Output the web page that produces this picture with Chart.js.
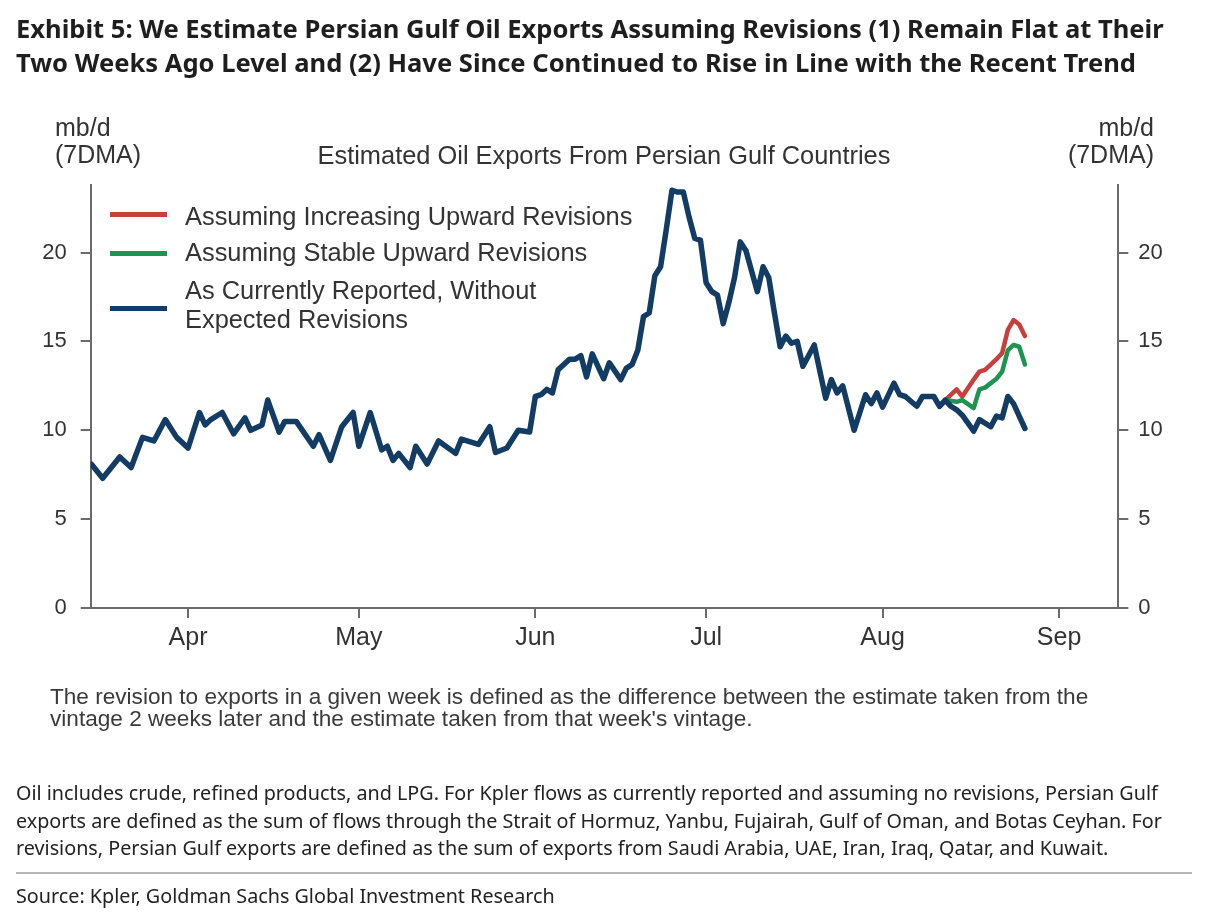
<!DOCTYPE html>
<html>
<head>
<meta charset="utf-8">
<script src="https://cdn.jsdelivr.net/npm/chart.js@4.4.1/dist/chart.umd.min.js"></script>
<style>
  html, body { margin: 0; padding: 0; background: #fff; }
  #page { position: relative; width: 1225px; height: 919px; overflow: hidden; background: #fff; }
  #chartWrap { position: absolute; left: 0; top: 0; width: 1225px; height: 919px; }
  .abs { position: absolute; white-space: nowrap; }
  .title { font-family: "Noto Sans", "Open Sans", sans-serif; font-weight: 700; font-size: 25.55px; line-height: 34px; color: #1e1e1e; left: 16px; top: 11px; }
  .arial { font-family: "Liberation Sans", Arial, sans-serif; color: #333; }
  .foot { font-family: "Noto Sans", "Open Sans", sans-serif; font-size: 19.75px; line-height: 27.5px; color: #222; left: 16px; }
  .swatch { position: absolute; left: 110px; width: 57px; height: 5px; }
</style>
</head>
<body>
<div id="page">
  <div id="chartWrap"><canvas id="c" width="1225" height="919"></canvas></div>

  <div class="abs title">Exhibit 5: We Estimate Persian Gulf Oil Exports Assuming Revisions (1) Remain Flat at Their<br>Two Weeks Ago Level and (2) Have Since Continued to Rise in Line with the Recent Trend</div>

  <div class="abs arial" style="left:55px; top:114px; font-size:25px; line-height:27px;">mb/d<br>(7DMA)</div>
  <div class="abs arial" style="right:71px; top:114px; font-size:25px; line-height:27px; text-align:right;">mb/d<br>(7DMA)</div>
  <div class="abs arial" style="left:0; width:1208px; text-align:center; top:140px; font-size:25.4px; line-height:30px;">Estimated Oil Exports From Persian Gulf Countries</div>

  <div class="swatch" style="top:212px; background:#c8403e;"></div>
  <div class="swatch" style="top:251px; background:#1f9452;"></div>
  <div class="swatch" style="top:306px; background:#123c63;"></div>
  <div class="abs arial" style="left:185px; top:201px; font-size:25.4px; line-height:30px;">Assuming Increasing Upward Revisions</div>
  <div class="abs arial" style="left:185px; top:237px; font-size:25.4px; line-height:30px;">Assuming Stable Upward Revisions</div>
  <div class="abs arial" style="left:185px; top:276px; font-size:25.4px; line-height:29px;">As Currently Reported, Without<br>Expected Revisions</div>

  <div class="abs arial" style="left:50px; top:686px; font-size:22.6px; line-height:22px; color:#3a3a3a;">The revision to exports in a given week is defined as the difference between the estimate taken from the<br>vintage 2 weeks later and the estimate taken from that week's vintage.</div>

  <div class="abs foot" style="top:779px;">Oil includes crude, refined products, and LPG. For Kpler flows as currently reported and assuming no revisions, Persian Gulf<br>exports are defined as the sum of flows through the Strait of Hormuz, Yanbu, Fujairah, Gulf of Oman, and Botas Ceyhan. For<br>revisions, Persian Gulf exports are defined as the sum of exports from Saudi Arabia, UAE, Iran, Iraq, Qatar, and Kuwait.</div>
  <div class="abs" style="left:16px; top:872px; width:1176px; height:2px; background:#b5b5b5;"></div>
  <div class="abs foot" style="top:882px;">Source: Kpler, Goldman Sachs Global Investment Research</div>
</div>

<script>
// ---- Data ----
const reportedDates = [
  '03-15','03-17','03-20','03-22','03-24','03-26','03-28','03-30',
  '04-01','04-03','04-04','04-05','04-07','04-09','04-11','04-12','04-14','04-15','04-17','04-18','04-20','04-23','04-24','04-26','04-28','04-30',
  '05-01','05-03','05-05','05-06','05-07','05-08','05-10','05-11','05-13','05-15','05-18','05-19','05-22','05-24','05-25','05-27','05-29','05-31',
  '06-01','06-02','06-03','06-04','06-05','06-07','06-08','06-09','06-10','06-11','06-13','06-14','06-16','06-17','06-18','06-19','06-20','06-21','06-22','06-23','06-24','06-25','06-26','06-27','06-28','06-29','06-30',
  '07-01','07-02','07-03','07-04','07-05','07-06','07-07','07-08','07-10','07-11','07-12','07-13','07-14','07-15','07-16','07-17','07-18','07-20','07-21','07-22','07-23','07-24','07-25','07-27','07-29','07-30','07-31',
  '08-01','08-03','08-04','08-05','08-07','08-08','08-10','08-11','08-12','08-13','08-14','08-15','08-17','08-18','08-20','08-21','08-22','08-23','08-24','08-25','08-26'
];
const reportedValues = [
  8.1, 7.3, 8.5, 7.9, 9.6, 9.4, 10.6, 9.6,
  9.0, 11.0, 10.3, 10.6, 11.0, 9.8, 10.7, 10.0, 10.3, 11.7, 9.9, 10.5, 10.5, 9.1, 9.75, 8.3, 10.2, 11.0,
  9.1, 11.0, 8.9, 9.1, 8.3, 8.7, 7.9, 9.1, 8.1, 9.4, 8.7, 9.5, 9.2, 10.2, 8.75, 9.0, 10.0, 9.9,
  11.9, 12.0, 12.3, 12.1, 13.4, 14.0, 14.0, 14.2, 13.0, 14.3, 12.9, 13.8, 12.85, 13.5, 13.7, 14.5, 16.4, 16.6, 18.7, 19.2, 21.3, 23.5, 23.4, 23.4, 22.0, 20.8, 20.7,
  18.3, 17.8, 17.6, 16.0, 17.2, 18.6, 20.6, 20.1, 17.8, 19.2, 18.6, 16.6, 14.7, 15.3, 14.9, 15.0, 13.6, 14.8, 13.3, 11.8, 12.85, 12.1, 12.5, 10.0, 12.0, 11.5, 12.1,
  11.3, 12.65, 12.0, 11.9, 11.35, 11.9, 11.9, 11.35, 11.7, 11.35, 11.15, 10.85, 9.95, 10.6, 10.2, 10.8, 10.7, 11.9, 11.5, 10.8, 10.1
];
const revisionDates = ['08-12','08-14','08-15','08-17','08-18','08-19','08-21','08-22','08-23','08-24','08-25','08-26'];
const increasingValues = [11.7, 12.3, 11.9, 12.85, 13.3, 13.4, 14.0, 14.35, 15.65, 16.2, 15.95, 15.3];
const stableValues     = [11.7, 11.6, 11.7, 11.25, 12.3, 12.4, 12.9, 13.3, 14.5, 14.8, 14.7, 13.7];

const monthTickDates  = ['04-01','05-01','06-01','07-01','08-01','09-01'];
const monthTickLabels = ['Apr','May','Jun','Jul','Aug','Sep'];
const yTickValues = [0, 5, 10, 15, 20];

// ---- helpers ----
const YEAR = 2025;
function dayNum(md) {
  const [m, d] = md.split('-').map(Number);
  return Date.UTC(YEAR, m - 1, d) / 86400000;
}
function toPoints(dates, values) {
  return dates.map((d, i) => ({ x: dayNum(d), y: values[i] }));
}

const axisColor = '#6b6b6b';
const tickFont = { family: '"Liberation Sans", Arial, sans-serif', size: 22 };

function yAxis(position, padding, width) {
  return {
    type: 'linear',
    position: position,
    min: 0,
    max: 23.8,
    afterBuildTicks: s => { s.ticks = yTickValues.map(v => ({ value: v })); },
    afterFit: s => { s.width = width; },
    ticks: { color: '#333', font: tickFont, padding: padding, callback: v => String(v) },
    grid: { drawOnChartArea: false, drawTicks: true, tickLength: 10, color: axisColor, lineWidth: 2 },
    border: { display: true, color: axisColor, width: 2 }
  };
}

new Chart(document.getElementById('c'), {
  type: 'line',
  data: {
    datasets: [
      { label: 'As Currently Reported, Without Expected Revisions', data: toPoints(reportedDates, reportedValues),
        borderColor: '#123c63', borderWidth: 5.5, pointRadius: 0, tension: 0, borderJoinStyle: 'round', borderCapStyle: 'round' },
      { label: 'Assuming Stable Upward Revisions', data: toPoints(revisionDates, stableValues),
        borderColor: '#1f9452', borderWidth: 4.5, pointRadius: 0, tension: 0, borderJoinStyle: 'round', borderCapStyle: 'round' },
      { label: 'Assuming Increasing Upward Revisions', data: toPoints(revisionDates, increasingValues),
        borderColor: '#c8403e', borderWidth: 4.5, pointRadius: 0, tension: 0, borderJoinStyle: 'round', borderCapStyle: 'round' }
    ]
  },
  options: {
    responsive: false,
    animation: false,
    events: [],
    layout: { padding: { left: 0, right: 0, top: 185, bottom: 251 } },
    plugins: { legend: { display: false }, tooltip: { enabled: false } },
    scales: {
      x: {
        type: 'linear',
        min: dayNum('03-15') - 0.1,
        max: dayNum('09-11') + 0.4,
        afterBuildTicks: s => { s.ticks = monthTickDates.map(d => ({ value: dayNum(d) })); },
        afterFit: s => { s.height = 60; },
        ticks: { color: '#333', font: { family: '"Liberation Sans", Arial, sans-serif', size: 25 }, padding: 5, maxRotation: 0, autoSkip: false,
                 callback: (v, i) => monthTickLabels[i] },
        grid: { drawOnChartArea: false, drawTicks: true, tickLength: 10, color: axisColor, lineWidth: 2 },
        border: { display: true, color: axisColor, width: 2 }
      },
      y: yAxis('left', 14, 90.7),
      y2: yAxis('right', 10, 106.7)
    }
  }
});
</script>
</body>
</html>
